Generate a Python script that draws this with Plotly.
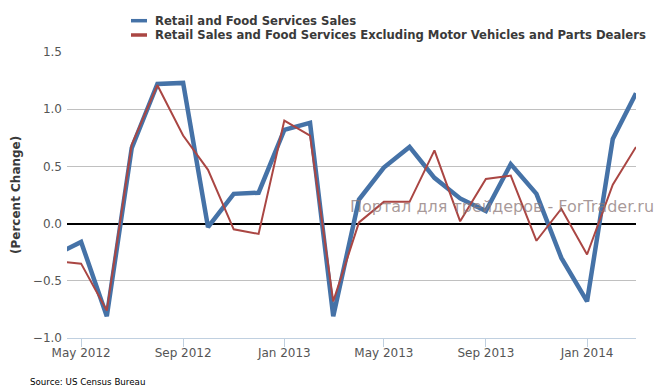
import plotly.graph_objects as go

months = ["2012-04-01", "2012-05-01", "2012-06-01", "2012-07-01", "2012-08-01", "2012-09-01",
          "2012-10-01", "2012-11-01", "2012-12-01", "2013-01-01", "2013-02-01", "2013-03-01",
          "2013-04-01", "2013-05-01", "2013-06-01", "2013-07-01", "2013-08-01", "2013-09-01",
          "2013-10-01", "2013-11-01", "2013-12-01", "2014-01-01", "2014-02-01", "2014-03-01"]

retail_food = [-0.27, -0.16, -0.81, 0.66, 1.22, 1.23, -0.03, 0.26, 0.27, 0.82, 0.88, -0.81,
               0.21, 0.49, 0.67, 0.40, 0.22, 0.11, 0.52, 0.26, -0.30, -0.68, 0.74, 1.14]

retail_ex_auto = [-0.33, -0.35, -0.76, 0.69, 1.21, 0.77, 0.47, -0.05, -0.09, 0.90, 0.77, -0.68,
                  0.01, 0.19, 0.19, 0.64, 0.02, 0.39, 0.42, -0.15, 0.13, -0.27, 0.34, 0.67]

tick_vals = ["2012-05-01", "2012-09-01", "2013-01-01", "2013-05-01", "2013-09-01", "2014-01-01"]
tick_text = ["May 2012", "Sep 2012", "Jan 2013", "May 2013", "Sep 2013", "Jan 2014"]

names = ["Retail and Food Services Sales",
         "Retail Sales and Food Services Excluding Motor Vehicles and Parts Dealers"]
colors = ["#4572A7", "#AA4643"]

W, H = 663, 391
L, R, T, B = 67, 636, 52, 338

fig = go.Figure()
fig.add_trace(go.Scatter(x=months, y=retail_food, mode="lines", name=names[0],
                         line=dict(color=colors[0], width=4.5)))
fig.add_trace(go.Scatter(x=months, y=retail_ex_auto, mode="lines", name=names[1],
                         line=dict(color=colors[1], width=2)))

fig.update_layout(
    width=W, height=H,
    margin=dict(l=L, r=W - R, t=T, b=H - B),
    paper_bgcolor="white", plot_bgcolor="white",
    showlegend=False,
    font=dict(family="DejaVu Sans", size=11, color="#606060"),
    xaxis=dict(type="date", range=["2012-04-14", "2014-03-01"],
               tickvals=tick_vals, ticktext=tick_text,
               showgrid=False, zeroline=False,
               showline=True, linecolor="#C0D0E0", linewidth=1,
               ticks="outside", ticklen=8, tickcolor="#C0D0E0", tickwidth=1,
               ticklabelstandoff=-4,
               tickfont=dict(size=12, color="#555555")),
    yaxis=dict(range=[-1.0, 1.5], dtick=0.5, tickformat=".1f",
               showgrid=True, gridcolor="#C0C0C0", gridwidth=1,
               zeroline=True, zerolinecolor="#000000", zerolinewidth=2,
               showline=False, ticks="", ticklabelstandoff=4,
               tickfont=dict(size=12, color="#555555")),
)

# legend drawn manually
leg_y = [20.7, 35.0]
for i in range(2):
    yp = 1 - (leg_y[i] - T) / (B - T)
    fig.add_shape(type="line", xref="paper", yref="paper",
                  x0=(131 - L) / (R - L), x1=(147 - L) / (R - L), y0=yp, y1=yp,
                  line=dict(color=colors[i], width=3.5))
    fig.add_annotation(text="<b>" + names[i] + "</b>", xref="paper", yref="paper",
                       x=(152.5 - L) / (R - L), y=yp, xanchor="left", yanchor="middle",
                       showarrow=False, font=dict(family="DejaVu Sans", size=11.65, color="#3A3A3A"))

fig.add_annotation(text="<b>(Percent Change)</b>", textangle=-90, xref="paper", yref="paper",
                   x=(16 - L) / (R - L), y=0.5, xanchor="center", yanchor="middle",
                   showarrow=False, font=dict(family="DejaVu Sans", size=12, color="#3A3A3A"))

fig.add_annotation(text="Source: US Census Bureau", xref="paper", yref="paper",
                   x=(28 - L) / (R - L), y=1 - (381.5 - T) / (B - T), xanchor="left", yanchor="middle",
                   showarrow=False, font=dict(family="DejaVu Sans", size=8.7, color="#000000"))

fig.add_annotation(text="Портал для трейдеров - ForTrader.ru", xref="paper", yref="paper",
                   x=(501.5 - L) / (R - L), y=1 - (206.7 - T) / (B - T), xanchor="center", yanchor="middle",
                   showarrow=False, font=dict(family="DejaVu Sans", size=16, color="rgba(140,120,120,0.75)"))

fig.write_html("out.html", config={"displayModeBar": False},
               post_script="document.body.style.margin='0';")
